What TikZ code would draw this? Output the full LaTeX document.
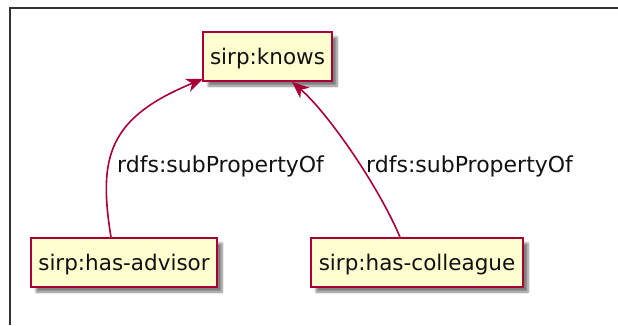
\documentclass[tikz,border=0pt]{standalone}
\usepackage{fontspec}
\setmainfont{DejaVu Sans}
\usetikzlibrary{arrows.meta,calc,shadows.blur}
\definecolor{umlred}{HTML}{A80036}
\definecolor{umlfill}{HTML}{FEFECE}
\definecolor{umltext}{HTML}{111111}
\tikzset{
  propbox/.style={draw=umlred, fill=umlfill, line width=1.6pt, inner sep=0pt,
    minimum height=49pt, text height=15pt, text depth=0pt, text=umltext,
    font=\fontsize{21.5}{25}\selectfont,
    blur shadow={shadow xshift=5pt, shadow yshift=-5pt, shadow opacity=50, shadow blur steps=6, shadow blur extra rounding=0pt}},
  subprop/.style={draw=umlred, line width=1.6pt, -{Stealth[length=17pt,width=14pt,inset=5pt]}},
  lbl/.style={font=\fontsize{22}{26}\selectfont, text=umltext, inner sep=0pt, anchor=base west},
  frame/.style={draw=black!80, line width=1.2pt}
}
\begin{document}
\begin{tikzpicture}[x=1pt,y=-1pt]
\useasboundingbox (0,0) rectangle (618,325);
\coordinate (fa) at (10,325);
\coordinate (fb) at (10,8);
\coordinate (fc) at (618,8);
\draw[frame] (fa) -- (fb) -- (fc);
\node[propbox, minimum width=129pt] (knows) at (267.5,56.5) {sirp:knows};
\node[propbox, minimum width=186pt] (adv) at (124,262.5) {sirp:has-advisor};
\node[propbox, minimum width=212pt] (col) at (417,262.5) {sirp:has-colleague};
\draw[subprop] ($(adv.north)+(-13,0)$) .. controls +(-13,-80) and (108,118) .. ($(knows.south west)+(1,-3)$);
\draw[subprop] ($(col.north)+(-17,0)$) .. controls +(-20,-48) and (330,115) .. ($(knows.south)+(24.5,0)$);
\node[lbl] (l1) at (117,172) {rdfs:subPropertyOf};
\node[lbl] (l2) at (366,172) {rdfs:subPropertyOf};
\end{tikzpicture}
\end{document}
